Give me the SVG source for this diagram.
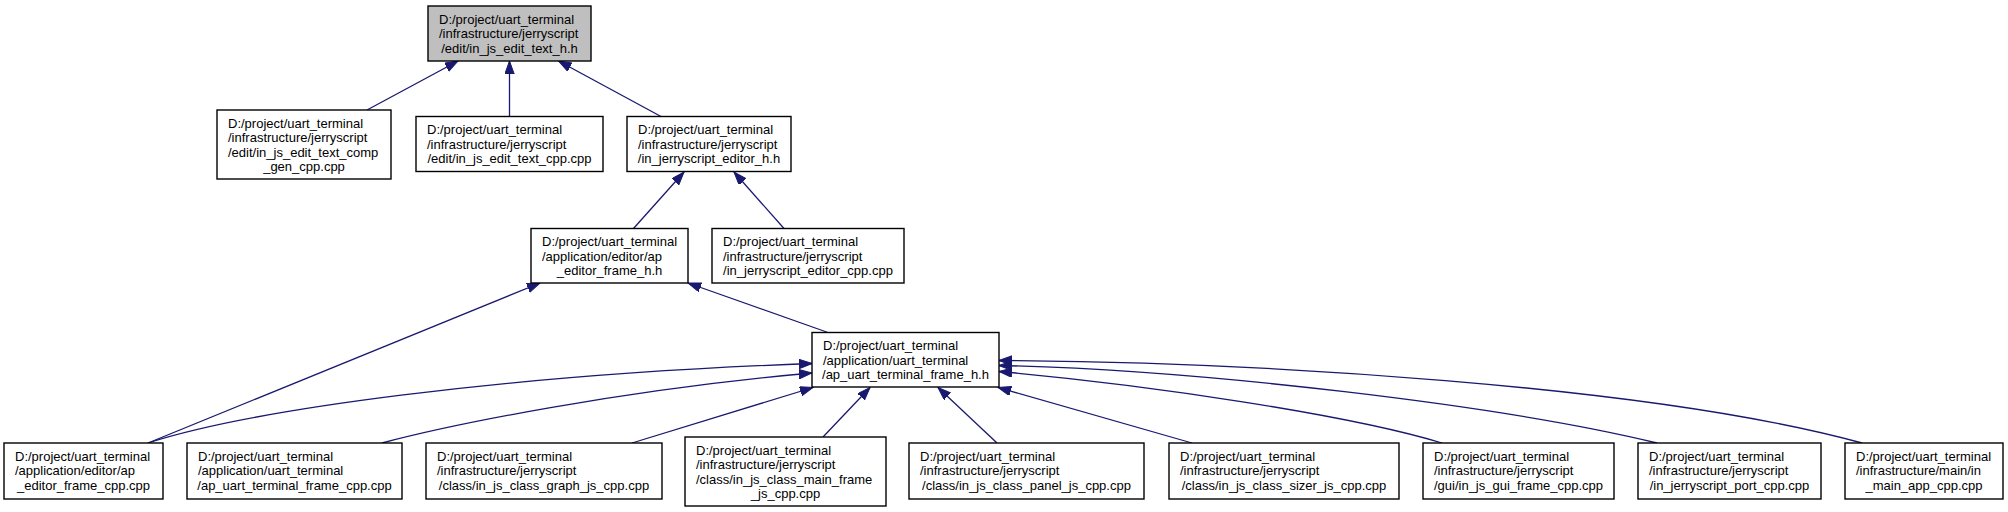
<svg xmlns="http://www.w3.org/2000/svg" width="2008" height="512" viewBox="0 0 2008 512">
<style>
.node rect{fill:#ffffff;stroke:#000000;stroke-width:1.4}
.node.root rect{fill:#bfbfbf}
.node text{font-family:"Liberation Sans",Arial,sans-serif;font-size:13px;fill:#000000}
.node text.c{text-anchor:middle}
.edge{fill:none;stroke:#191970;stroke-width:1.3;marker-end:url(#arr)}
</style>
<defs>
<marker id="arr" markerUnits="userSpaceOnUse" markerWidth="14" markerHeight="10" refX="13" refY="4.7" orient="auto">
<path d="M0,0 L13,4.7 L0,9.4 z" fill="#191970" stroke="#191970" stroke-width="1"/>
</marker>
</defs>
<rect x="0" y="0" width="2008" height="512" fill="#ffffff"/>
<g id="connectors">
<path class="edge" d="M367,110 L458,61"/>
<path class="edge" d="M509.5,116.5 L509.5,61"/>
<path class="edge" d="M661,116.5 L558.5,61"/>
<path class="edge" d="M633.5,228.5 L684,172"/>
<path class="edge" d="M784,228.5 L734,172"/>
<path class="edge" d="M148,443 L540,283"/>
<path class="edge" d="M828,332.5 L688,283"/>
<path class="edge" d="M148,443 C250,410 500,375 812,363.5"/>
<path class="edge" d="M382,443 C450,425 620,390 812,373"/>
<path class="edge" d="M632,443 L813,387.5"/>
<path class="edge" d="M823,437 L870,387.5"/>
<path class="edge" d="M997,443 L938,387.5"/>
<path class="edge" d="M1192,443 L998,387.5"/>
<path class="edge" d="M1442,443 C1350,415 1150,385 999,371.5"/>
<path class="edge" d="M1657,443 C1500,405 1200,370 999,365.5"/>
<path class="edge" d="M1862,443 C1650,385 1250,362 999,360.5"/>
</g>
<g id="n_edit_text_h" class="node root">
<rect x="428" y="6" width="163" height="55"/>
<text x="439" y="23.5">D:/project/uart_terminal</text>
<text x="439" y="38">/infrastructure/jerryscript</text>
<text class="c" x="509.5" y="52.5">/edit/in_js_edit_text_h.h</text>
</g>
<g id="n_comp_gen_cpp" class="node">
<rect x="217" y="110" width="174" height="69"/>
<text x="228" y="127.5">D:/project/uart_terminal</text>
<text x="228" y="142">/infrastructure/jerryscript</text>
<text x="228" y="156.5">/edit/in_js_edit_text_comp</text>
<text class="c" x="304" y="171">_gen_cpp.cpp</text>
</g>
<g id="n_edit_text_cpp" class="node">
<rect x="416" y="116.5" width="187" height="55"/>
<text x="427" y="134">D:/project/uart_terminal</text>
<text x="427" y="148.5">/infrastructure/jerryscript</text>
<text class="c" x="509.5" y="163">/edit/in_js_edit_text_cpp.cpp</text>
</g>
<g id="n_editor_h" class="node">
<rect x="627" y="116.5" width="164" height="55"/>
<text x="638" y="134">D:/project/uart_terminal</text>
<text x="638" y="148.5">/infrastructure/jerryscript</text>
<text class="c" x="709" y="163">/in_jerryscript_editor_h.h</text>
</g>
<g id="n_ap_editor_frame_h" class="node">
<rect x="531" y="228.5" width="157" height="54.5"/>
<text x="542" y="246">D:/project/uart_terminal</text>
<text x="542" y="260.5">/application/editor/ap</text>
<text class="c" x="609.5" y="275">_editor_frame_h.h</text>
</g>
<g id="n_editor_cpp" class="node">
<rect x="712" y="228.5" width="192" height="54.5"/>
<text x="723" y="246">D:/project/uart_terminal</text>
<text x="723" y="260.5">/infrastructure/jerryscript</text>
<text class="c" x="808" y="275">/in_jerryscript_editor_cpp.cpp</text>
</g>
<g id="n_terminal_frame_h" class="node">
<rect x="812" y="332.5" width="187" height="54.5"/>
<text x="823" y="350">D:/project/uart_terminal</text>
<text x="823" y="364.5">/application/uart_terminal</text>
<text class="c" x="905.5" y="379">/ap_uart_terminal_frame_h.h</text>
</g>
<g id="n_ap_editor_frame_cpp" class="node">
<rect x="4" y="443" width="159" height="56"/>
<text x="15" y="460.5">D:/project/uart_terminal</text>
<text x="15" y="475">/application/editor/ap</text>
<text class="c" x="83.5" y="489.5">_editor_frame_cpp.cpp</text>
</g>
<g id="n_terminal_frame_cpp" class="node">
<rect x="187" y="443" width="215" height="56"/>
<text x="198" y="460.5">D:/project/uart_terminal</text>
<text x="198" y="475">/application/uart_terminal</text>
<text class="c" x="294.5" y="489.5">/ap_uart_terminal_frame_cpp.cpp</text>
</g>
<g id="n_graph_js_cpp" class="node">
<rect x="426" y="443" width="236" height="56"/>
<text x="437" y="460.5">D:/project/uart_terminal</text>
<text x="437" y="475">/infrastructure/jerryscript</text>
<text class="c" x="544" y="489.5">/class/in_js_class_graph_js_cpp.cpp</text>
</g>
<g id="n_main_frame_js_cpp" class="node">
<rect x="685" y="437" width="201" height="69"/>
<text x="696" y="454.5">D:/project/uart_terminal</text>
<text x="696" y="469">/infrastructure/jerryscript</text>
<text x="696" y="483.5">/class/in_js_class_main_frame</text>
<text class="c" x="785.5" y="498">_js_cpp.cpp</text>
</g>
<g id="n_panel_js_cpp" class="node">
<rect x="909" y="443" width="235" height="56"/>
<text x="920" y="460.5">D:/project/uart_terminal</text>
<text x="920" y="475">/infrastructure/jerryscript</text>
<text class="c" x="1026.5" y="489.5">/class/in_js_class_panel_js_cpp.cpp</text>
</g>
<g id="n_sizer_js_cpp" class="node">
<rect x="1169" y="443" width="230" height="56"/>
<text x="1180" y="460.5">D:/project/uart_terminal</text>
<text x="1180" y="475">/infrastructure/jerryscript</text>
<text class="c" x="1284" y="489.5">/class/in_js_class_sizer_js_cpp.cpp</text>
</g>
<g id="n_gui_frame_cpp" class="node">
<rect x="1423" y="443" width="191" height="56"/>
<text x="1434" y="460.5">D:/project/uart_terminal</text>
<text x="1434" y="475">/infrastructure/jerryscript</text>
<text class="c" x="1518.5" y="489.5">/gui/in_js_gui_frame_cpp.cpp</text>
</g>
<g id="n_port_cpp" class="node">
<rect x="1638" y="443" width="183" height="56"/>
<text x="1649" y="460.5">D:/project/uart_terminal</text>
<text x="1649" y="475">/infrastructure/jerryscript</text>
<text class="c" x="1729.5" y="489.5">/in_jerryscript_port_cpp.cpp</text>
</g>
<g id="n_main_app_cpp" class="node">
<rect x="1845" y="443" width="158" height="56"/>
<text x="1856" y="460.5">D:/project/uart_terminal</text>
<text x="1856" y="475">/infrastructure/main/in</text>
<text class="c" x="1924" y="489.5">_main_app_cpp.cpp</text>
</g>
</svg>
